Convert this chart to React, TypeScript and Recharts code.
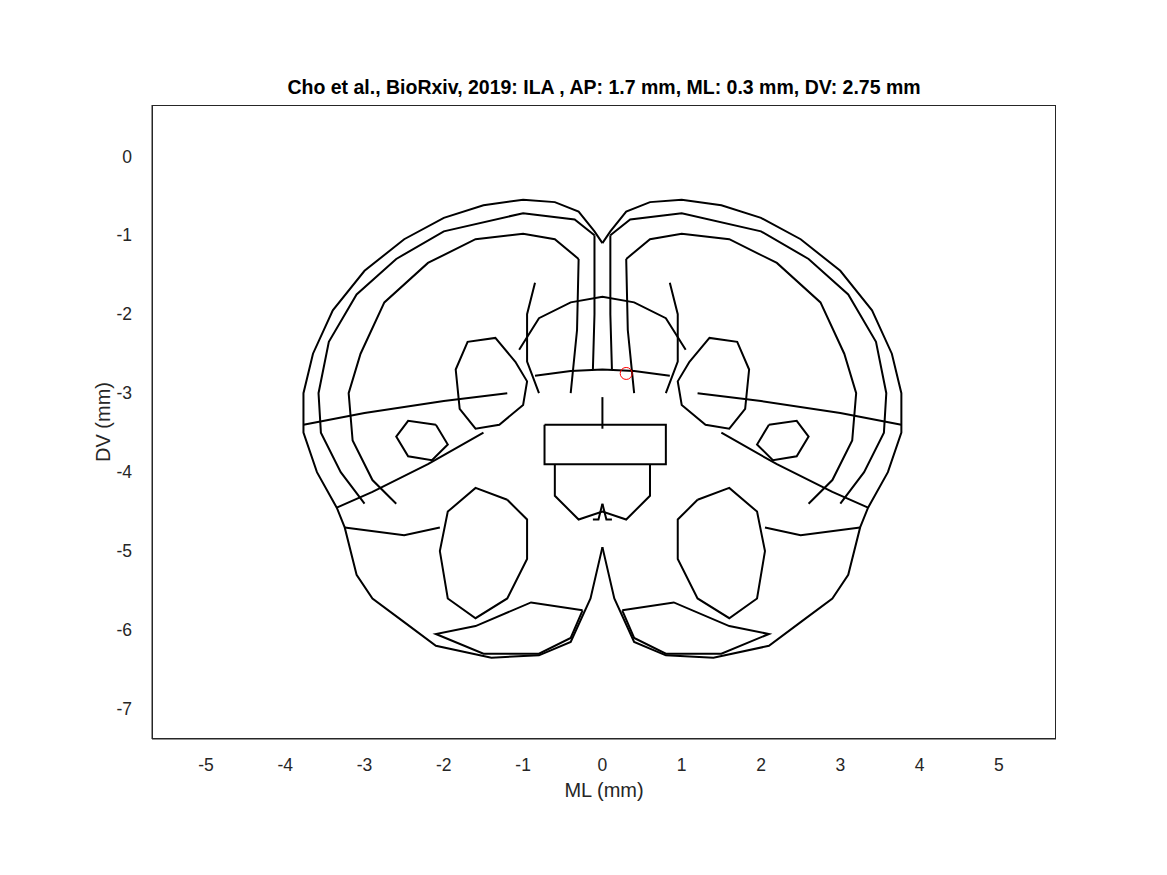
import { ComposedChart, Line, Scatter, XAxis, YAxis } from "recharts";

type P = { x: number; y: number };

// right-hemisphere contours in mm (ML, DV); left side is the mirror
const OUTER: [number, number][] = [
  [0, -1.1], [0.1, -0.95], [0.3, -0.7], [0.6, -0.58], [1, -0.55], [1.5, -0.62], [2, -0.78],
  [2.5, -1.05], [3, -1.45], [3.4, -1.95], [3.65, -2.5], [3.77, -3.0], [3.77, -3.5], [3.6, -4.0],
  [3.35, -4.45], [3.25, -4.7], [3.1, -5.3], [2.9, -5.6], [2.5, -5.9], [2.1, -6.2], [1.4, -6.35],
  [0.8, -6.32], [0.4, -6.15], [0.15, -5.6], [0, -4.95],
];
const CORTEX_2: [number, number][] = [
  [0.1, -1.0], [0.35, -0.8], [1, -0.72], [2, -0.95], [2.6, -1.3], [3.1, -1.75], [3.45, -2.35],
  [3.58, -3.0], [3.55, -3.5], [3.3, -4.0], [3.0, -4.4],
];
const CORTEX_3: [number, number][] = [
  [0.3, -1.3], [0.6, -1.05], [1, -0.98], [1.6, -1.05], [2.2, -1.35], [2.75, -1.85], [3.05, -2.5],
  [3.2, -3.0], [3.15, -3.6], [2.9, -4.1], [2.6, -4.4],
];
const STRIATUM: [number, number][] = [
  [1.1, -2.6], [1.35, -2.3], [1.7, -2.35], [1.85, -2.7], [1.8, -3.2], [1.6, -3.45], [1.3, -3.4],
  [1.0, -3.15], [0.95, -2.85], [1.1, -2.6],
];
const LOWER_BLOB: [number, number][] = [
  [1.2, -4.35], [1.6, -4.2], [1.95, -4.5], [2.05, -5.0], [1.95, -5.6], [1.6, -5.85], [1.2, -5.6],
  [0.95, -5.1], [0.95, -4.6], [1.2, -4.35],
];
const SIDE_BLOB: [number, number][] = [
  [2.1, -3.4], [2.45, -3.35], [2.6, -3.55], [2.45, -3.8], [2.15, -3.85], [1.95, -3.65], [2.1, -3.4],
];
const BASE_BLOB: [number, number][] = [
  [0.25, -5.75], [0.9, -5.65], [1.6, -5.95], [2.1, -6.05], [1.5, -6.3], [0.8, -6.3], [0.4, -6.1],
  [0.25, -5.75],
];
const LAT_LINE_1: [number, number][] = [[1.2, -3.0], [2.0, -3.1], [3.0, -3.25], [3.77, -3.4]];
const LAT_LINE_2: [number, number][] = [[1.5, -3.5], [2.2, -3.9], [2.9, -4.25], [3.35, -4.45]];
const LAT_LINE_3: [number, number][] = [[2.05, -4.7], [2.5, -4.8], [3.25, -4.7]];
const MEDIAL_1: [number, number][] = [[0.1, -1.0], [0.1, -2.0], [0.12, -2.7]];
const MEDIAL_2: [number, number][] = [[0.3, -1.3], [0.32, -2.2], [0.4, -3.0]];
const CALLOSUM: [number, number][] = [[0.85, -1.6], [0.95, -2.0], [0.95, -2.6], [0.8, -3.0]];
const MIDLINE_TOP: [number, number][] = [[0, -3.05], [0, -3.45]];
const MIDLINE_BOTTOM: [number, number][] = [[0, -4.4], [0.05, -4.6], [0.12, -4.6]];

// full-width pieces
const DOME: [number, number][] = [
  [-1.05, -2.45], [-0.8, -2.05], [-0.4, -1.85], [0, -1.78], [0.4, -1.85], [0.8, -2.05], [1.05, -2.45],
];
const ARC: [number, number][] = [[-0.85, -2.78], [-0.4, -2.72], [0, -2.7], [0.4, -2.72], [0.85, -2.78]];
const BOX: [number, number][] = [
  [-0.73, -3.4], [0.8, -3.4], [0.8, -3.9], [-0.73, -3.9], [-0.73, -3.4],
];
const BELOW_BOX: [number, number][] = [
  [-0.6, -3.9], [-0.6, -4.3], [-0.3, -4.6], [0, -4.5], [0.3, -4.6], [0.6, -4.3], [0.6, -3.9],
];

const PROBE = [{ x: 0.3, y: -2.75 }];
const X_TICKS = [-5, -4, -3, -2, -1, 0, 1, 2, 3, 4, 5];
const Y_TICKS = [0, -1, -2, -3, -4, -5, -6, -7];

const toPts = (a: [number, number][]): P[] => a.map(([x, y]) => ({ x, y }));
const mirror = (a: [number, number][]): P[] => a.map(([x, y]) => ({ x: -x, y }));

const HALVES = [
  OUTER, CORTEX_2, CORTEX_3, STRIATUM, LOWER_BLOB, SIDE_BLOB, BASE_BLOB, LAT_LINE_1,
  LAT_LINE_2, LAT_LINE_3, MEDIAL_1, MEDIAL_2, CALLOSUM, MIDLINE_BOTTOM,
];
const contours: P[][] = [
  ...HALVES.map(toPts),
  ...HALVES.map(mirror),
  toPts(DOME), toPts(ARC), toPts(BOX), toPts(BELOW_BOX), toPts(MIDLINE_TOP),
];

const font = "Helvetica, Arial, 'Liberation Sans', sans-serif";

export default function App() {
  return (
    <div style={{ position: "absolute", left: 0, top: 0, width: 1167, height: 875, background: "#fff", fontFamily: font }}>
      <div style={{ position: "absolute", top: 76, left: 0, width: 1208, textAlign: "center", fontWeight: "bold", fontSize: 19.5 }}>
        Cho et al., BioRxiv, 2019: ILA , AP: 1.7 mm, ML: 0.3 mm, DV: 2.75 mm
      </div>
      <div style={{ position: "absolute", top: 779, left: 0, width: 1208, textAlign: "center", fontSize: 20, color: "#262626" }}>
        ML (mm)
      </div>
      <div style={{ position: "absolute", left: 103, top: 422, transform: "translate(-50%,-50%) rotate(-90deg)", fontSize: 20, color: "#262626", whiteSpace: "nowrap" }}>
        DV (mm)
      </div>
      <ComposedChart width={1167} height={875} margin={{ top: 105, right: 111, bottom: 106, left: 92 }}>
        <XAxis xAxisId="b" dataKey="x" type="number" domain={[-5.68, 5.72]} ticks={X_TICKS} allowDataOverflow
          stroke="#262626" tickLine={false} tickMargin={14} height={30} tick={{ fontSize: 17.5, fill: "#262626" }} />
        <YAxis yAxisId="l" dataKey="y" type="number" domain={[-7.38, 0.65]} ticks={Y_TICKS} allowDataOverflow
          stroke="#262626" tickLine={false} tickMargin={14} width={60} tick={{ fontSize: 17.5, fill: "#262626" }} />
        {contours.map((c, i) => (
          <Line key={i} xAxisId="b" yAxisId="l" data={c} dataKey="y" type="linear" stroke="#000"
            strokeWidth={2} dot={false} isAnimationActive={false} />
        ))}
        <Scatter xAxisId="b" yAxisId="l" data={PROBE} dataKey="y" isAnimationActive={false}
          shape={(p: any) => <circle cx={p.cx} cy={p.cy} r={6} fill="none" stroke="#f00" strokeWidth={1} />} />
      </ComposedChart>
      <div style={{ position: "absolute", left: 152, top: 105, width: 904, height: 634, border: "1px solid #262626", boxSizing: "border-box", pointerEvents: "none" }} />
    </div>
  );
}
